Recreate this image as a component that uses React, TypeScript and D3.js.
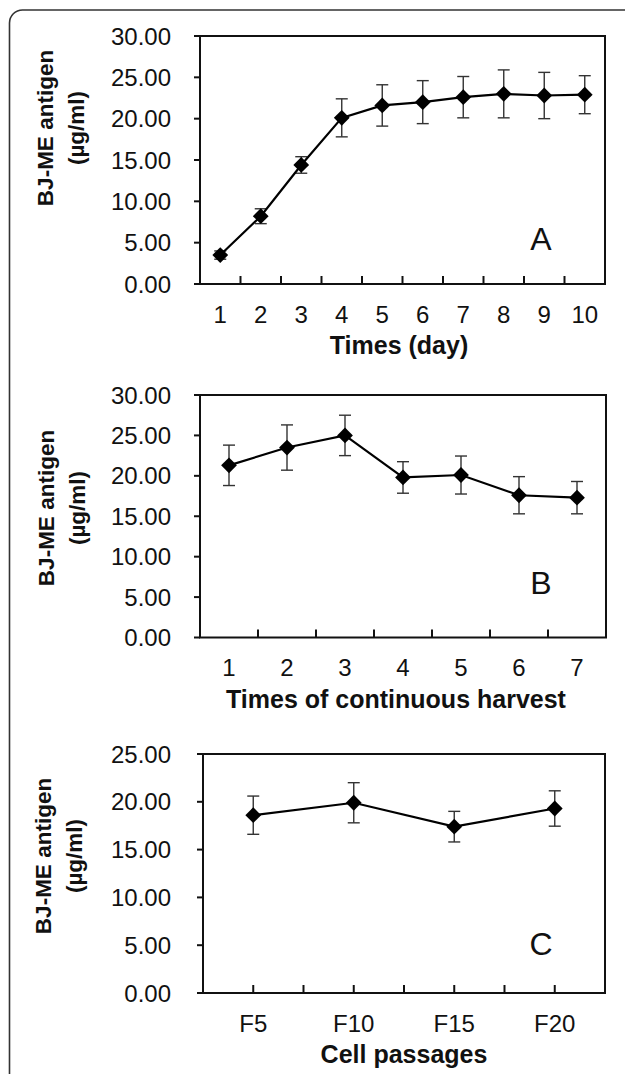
import React, {JSX} from "react";
import * as d3 from "d3";

// panel A: antigen yield per day
const daysA = ["1", "2", "3", "4", "5", "6", "7", "8", "9", "10"];
const meanA = [3.5, 8.2, 14.4, 20.1, 21.6, 22.0, 22.6, 23.0, 22.8, 22.9];
const errA = [0.5, 0.9, 1.0, 2.3, 2.5, 2.6, 2.5, 2.9, 2.8, 2.3];

// panel B: continuous harvest
const harvestB = ["1", "2", "3", "4", "5", "6", "7"];
const meanB = [21.3, 23.5, 25.0, 19.8, 20.1, 17.6, 17.3];
const errB = [2.5, 2.8, 2.5, 1.95, 2.35, 2.3, 2.0];

// panel C: cell passages
const passC = ["F5", "F10", "F15", "F20"];
const meanC = [18.6, 19.9, 17.4, 19.3];
const errC = [2.0, 2.1, 1.6, 1.85];

const yTitle1 = "BJ-ME antigen";
const yTitle2 = "(µg/ml)";
const font = "'Liberation Sans', Arial, sans-serif";
const fmt = d3.format(".2f");

type PanelProps = {
    cats: string[]
    vals: number[]
    errs: number[]
    yMax: number
    left: number
    right: number
    top: number
    bottom: number
    xTitle: string
    xTitleX: number
    letter: string
    letterY: number
    titleY: number
    titleX: number
    halfTicks?: boolean
}

const Panel = (p: PanelProps): JSX.Element => {
    const x = d3.scaleBand(p.cats, [p.left, p.right]);
    const y = d3.scaleLinear([0, p.yMax], [p.bottom, p.top]);
    const cx = (i: number) => (x(p.cats[i]) as number) + x.bandwidth() / 2;
    const line = d3.line<number>((d, i) => cx(i), d => y(d));
    const yTicks = d3.range(0, p.yMax + 0.1, 5);
    const step = p.halfTicks ? x.bandwidth() / 2 : x.bandwidth();
    const nTicks = Math.round((p.right - p.left) / step);
    const xTicks = d3.range(1, nTicks).map(i => p.left + i * step);
    const diamond = d3.symbol(d3.symbolSquare, 125)() as string;

    return (
        <g fontFamily={font} fill="#111">
            <rect x={p.left} y={p.top} width={p.right - p.left} height={p.bottom - p.top}
                  fill="none" stroke="#111" strokeWidth={2}/>
            {yTicks.map(t => (
                <g key={t}>
                    <line x1={p.left - 6} x2={p.left} y1={y(t)} y2={y(t)} stroke="#111" strokeWidth={2}/>
                    <text x={171} y={y(t)} dy="0.36em" textAnchor="end" fontSize={24}>{fmt(t)}</text>
                </g>
            ))}
            {xTicks.map(t => (
                <line key={t} x1={t} x2={t} y1={p.bottom} y2={p.bottom - 8} stroke="#111" strokeWidth={2}/>
            ))}
            {p.cats.map((c, i) => (
                <text key={c} x={cx(i)} y={p.bottom + 30} dy="0.36em" textAnchor="middle" fontSize={24}>{c}</text>
            ))}
            <text x={p.xTitleX} y={p.bottom + 61} dy="0.36em" textAnchor="middle"
                  fontSize={25} fontWeight="bold">{p.xTitle}</text>
            <g transform={`translate(${p.titleX},${p.titleY}) rotate(-90)`} fontWeight="bold" fontSize={22.5}>
                <text x={0} y={0} dy="0.36em" textAnchor="middle">{yTitle1}</text>
                <text x={0} y={31} dy="0.36em" textAnchor="middle">{yTitle2}</text>
            </g>
            <text x={541} y={p.letterY} dy="0.36em" textAnchor="middle" fontSize={32}>{p.letter}</text>
            <g stroke="#333" strokeWidth={1.4}>
                {p.vals.map((v, i) => (
                    <g key={i}>
                        <line x1={cx(i)} x2={cx(i)} y1={y(v - p.errs[i])} y2={y(v + p.errs[i])}/>
                        <line x1={cx(i) - 6} x2={cx(i) + 6} y1={y(v - p.errs[i])} y2={y(v - p.errs[i])}/>
                        <line x1={cx(i) - 6} x2={cx(i) + 6} y1={y(v + p.errs[i])} y2={y(v + p.errs[i])}/>
                    </g>
                ))}
            </g>
            <path d={line(p.vals) as string} fill="none" stroke="#000" strokeWidth={2.2}/>
            {p.vals.map((v, i) => (
                <path key={i} d={diamond} transform={`translate(${cx(i)},${y(v)}) rotate(45)`} fill="#000"/>
            ))}
        </g>
    )
}

export default function App(): JSX.Element {
    return (
        <svg width={625} height={1074} style={{position: "absolute", left: 0, top: 0, background: "#fff"}}>
            <rect x={9.5} y={10} width={700} height={1200} rx={13} fill="none" stroke="#333" strokeWidth={1.6}/>
            <Panel cats={daysA} vals={meanA} errs={errA} yMax={30} left={200} right={605} top={36} bottom={284}
                   xTitle="Times (day)" xTitleX={399} letter="A" letterY={238} titleX={45} titleY={128}/>
            <Panel cats={harvestB} vals={meanB} errs={errB} yMax={30} left={200} right={606} top={395} bottom={637.5}
                   xTitle="Times of continuous harvest" xTitleX={396} letter="B" letterY={582} titleX={46} titleY={508}/>
            <Panel cats={passC} vals={meanC} errs={errC} yMax={25} left={203} right={605} top={754} bottom={993}
                   xTitle="Cell passages" xTitleX={404} letter="C" letterY={943} titleX={43} titleY={856} halfTicks/>
        </svg>
    )
}
